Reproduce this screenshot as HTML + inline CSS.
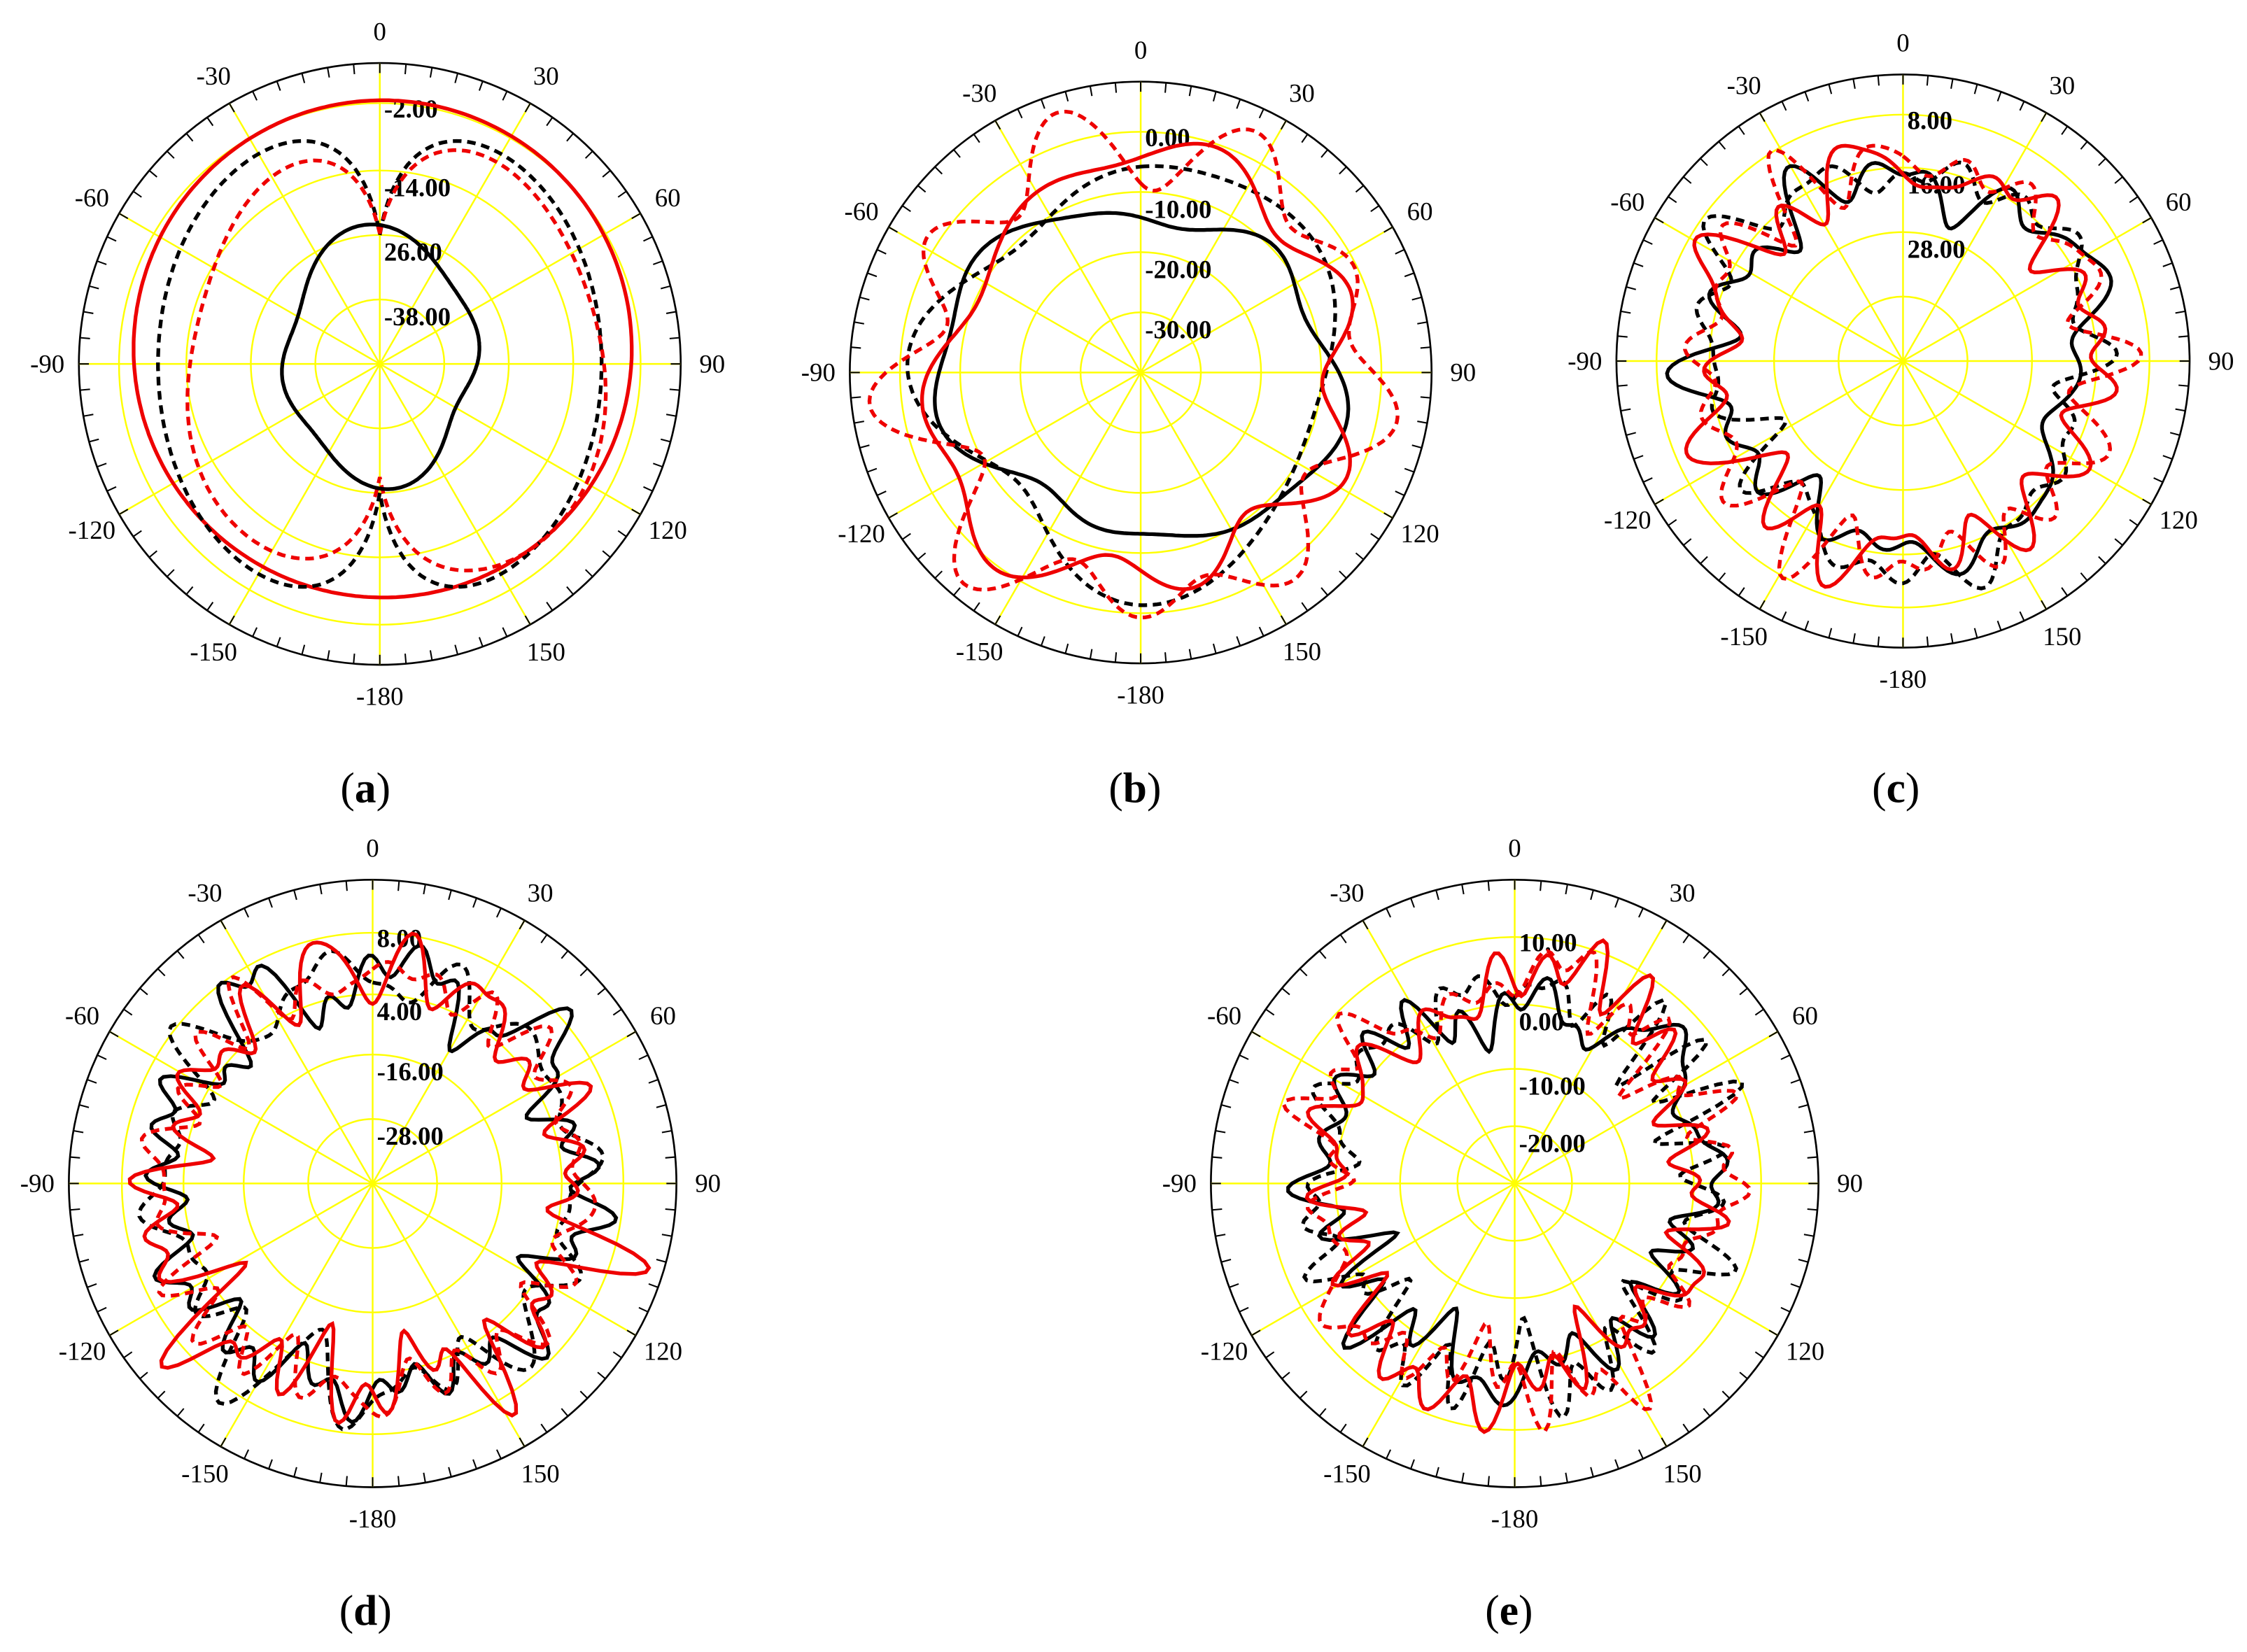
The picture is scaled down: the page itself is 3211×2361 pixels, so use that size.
<!DOCTYPE html>
<html><head><meta charset="utf-8"><style>
html,body{margin:0;padding:0;background:#fff;}
svg{display:block;}
text{font-family:"Liberation Serif",serif;}
</style></head><body>
<svg id="s" width="3211" height="2361" viewBox="0 0 1568 1153" xmlns="http://www.w3.org/2000/svg">
<rect width="1568" height="1153" fill="#fff"/>
<g id="g"></g>
<text x="255" y="560" font-size="30" text-anchor="middle">(<tspan font-weight="bold">a</tspan>)</text>
<text x="792" y="560" font-size="30" text-anchor="middle">(<tspan font-weight="bold">b</tspan>)</text>
<text x="1323" y="560" font-size="30" text-anchor="middle">(<tspan font-weight="bold">c</tspan>)</text>
<text x="255" y="1134" font-size="30" text-anchor="middle">(<tspan font-weight="bold">d</tspan>)</text>
<text x="1053" y="1134" font-size="30" text-anchor="middle">(<tspan font-weight="bold">e</tspan>)</text>
</svg>
<script>
var g=document.getElementById('g'),NS='http://www.w3.org/2000/svg';
function el(t,a,txt){var e=document.createElementNS(NS,t);for(var k in a)e.setAttribute(k,a[k]);if(txt!=null)e.textContent=txt;g.appendChild(e);return e;}
var seed=7;function rnd(){seed=(seed*16807)%2147483647;return seed/2147483647;}
function pt(cx,cy,r,deg){var a=deg*Math.PI/180;return [cx+r*Math.sin(a),cy-r*Math.cos(a)];}
function polar(cx,cy,R,rings,labels){
 el('circle',{cx:cx,cy:cy,r:R,fill:'none',stroke:'#000','stroke-width':1.3});
 for(var i=0;i<rings.length;i++)el('circle',{cx:cx,cy:cy,r:rings[i],fill:'none',stroke:'#ff0','stroke-width':1.2});
 for(var d=0;d<360;d+=30){var p=pt(cx,cy,R,d);el('line',{x1:cx,y1:cy,x2:p[0],y2:p[1],stroke:'#ff0','stroke-width':1.2});}
 for(var d=0;d<360;d+=5){var p=pt(cx,cy,R,d),q=pt(cx,cy,R-7,d);el('line',{x1:p[0],y1:p[1],x2:q[0],y2:q[1],stroke:'#000','stroke-width':1});}
 var names={0:'0',30:'30',60:'60',90:'90',120:'120',150:'150',180:'-180',210:'-150',240:'-120',270:'-90',300:'-60',330:'-30'};
 for(var d=0;d<360;d+=30){var p=pt(cx,cy,R+22,d);el('text',{x:p[0],y:p[1]+6,'font-size':18,'text-anchor':'middle'},names[d]);}
 for(var i=0;i<labels.length;i++)el('text',{x:cx+3,y:cy-rings[rings.length-1-i]+18+(i==0?-8:0),'font-size':18,'font-weight':'bold','text-anchor':'start'},labels[i]);
}
function curve(cx,cy,f,color,dash){
 var d='';for(var t=0;t<=360;t+=1){var p=pt(cx,cy,f(t),t);d+=(t?'L':'M')+p[0].toFixed(1)+' '+p[1].toFixed(1);}
 var a={d:d+'Z',fill:'none',stroke:color,'stroke-width':2.6};if(dash)a['stroke-dasharray']='6 4';el('path',a);
}
function wav(base,terms,spike){var h=[];for(var i=0;i<terms;i++)h.push([2+Math.floor(rnd()*(spike||10)),rnd()*12,rnd()*6.28]);
 return function(t){var a=t*Math.PI/180,r=base;for(var i=0;i<h.length;i++)r+=h[i][1]*Math.cos(h[i][0]*a+h[i][2]);return r;};}
// (a)
var ax=265,ay=254,AR=210;
polar(ax,ay,AR,[45,90,135,182],['-2.00','-14.00','26.00','-38.00']);
curve(ax,ay,function(t){var a=t*Math.PI/180;return 173.5+10.5*Math.cos(a)+2*Math.sin(a);},'#e00',false);
curve(ax,ay,function(t){var a=t*Math.PI/180,s=Math.abs(Math.sin(a));return 90+90*(1-Math.exp(-6*s))-25*s*s;},'#000',true);
curve(ax,ay,function(t){var a=t*Math.PI/180,s=Math.abs(Math.sin(a));return 85+85*(1-Math.exp(-5*s))-25*s*s+12*Math.sin(a)+6*Math.cos(3*a);},'#e00',true);
curve(ax,ay,function(t){var a=t*Math.PI/180;return 75+12*Math.cos(2*a)+5*Math.cos(a)+6*Math.cos(4*a+0.6);},'#000',false);
// (b)
var bx=796,by=260,BR=203;
polar(bx,by,BR,[42,84,126,168],['0.00','-10.00','-20.00','-30.00']);
seed=11;curve(bx,by,wav(125,6,7),'#000',false);
curve(bx,by,wav(140,6,7),'#000',true);
curve(bx,by,wav(145,6,7),'#e00',false);
curve(bx,by,wav(160,6,8),'#e00',true);
// (c)
var cx=1328,cy=252,CR=200;
polar(cx,cy,CR,[45,90,135,172],['8.00','16.00','28.00']);
seed=23;curve(cx,cy,wav(130,8,20),'#000',false);curve(cx,cy,wav(135,8,20),'#000',true);
curve(cx,cy,wav(135,8,20),'#e00',false);curve(cx,cy,wav(140,8,20),'#e00',true);
// (d)
var dx=260,dy=826,DR=212;
polar(dx,dy,DR,[45,90,132,175],['8.00','4.00','-16.00','-28.00']);
seed=31;curve(dx,dy,wav(145,10,28),'#000',false);curve(dx,dy,wav(145,10,28),'#000',true);
curve(dx,dy,wav(145,10,28),'#e00',false);curve(dx,dy,wav(145,10,28),'#e00',true);
// (e)
var ex=1057,ey=826,ER=212;
polar(ex,ey,ER,[40,80,125,172],['10.00','0.00','-10.00','-20.00']);
seed=47;curve(ex,ey,wav(130,10,30),'#000',false);curve(ex,ey,wav(135,10,30),'#000',true);
curve(ex,ey,wav(135,10,30),'#e00',false);curve(ex,ey,wav(140,10,30),'#e00',true);
</script>
</body></html>
